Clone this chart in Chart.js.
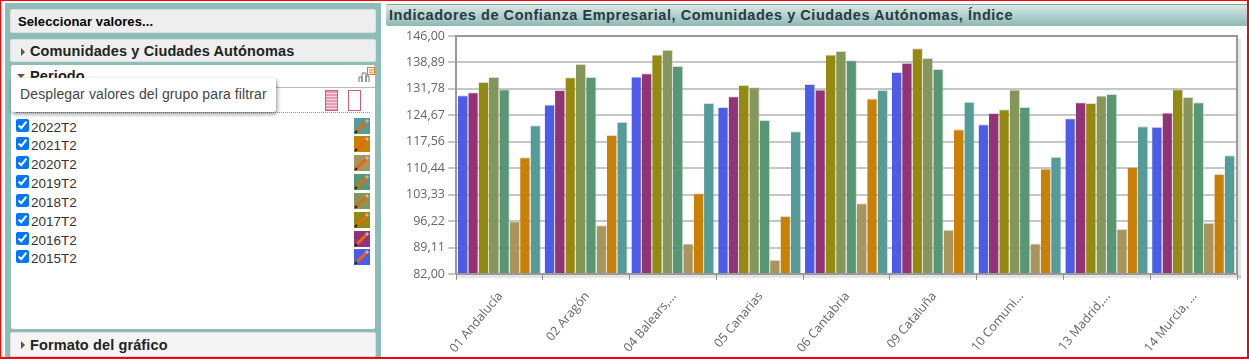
<!DOCTYPE html>
<html>
<head>
<meta charset="utf-8">
<script src="https://cdn.jsdelivr.net/npm/chart.js@4"></script>
<style>
html, body { margin: 0; padding: 0; background: #fff; overflow: hidden; }
body { width: 1249px; height: 359px; position: relative; font-family: "Liberation Sans", Arial, sans-serif; }
#frame { position: absolute; left: 0; top: 0; width: 1246px; height: 356px; border: 1px solid #f00; border-width: 1px 2px 2px 1px; z-index: 9; pointer-events: none; }
#side { position: absolute; left: 5px; top: 3px; width: 376px; height: 354px; background: #8cbdb8; }
.head { position: absolute; left: 5px; width: 364px; background: #eee; border: 1px solid #ddd; border-radius: 2px; font-weight: bold; font-size: 14.5px; color: #222; letter-spacing: .12px; box-sizing: content-box; }
.head i { position: absolute; left: 10px; top: 8px; width: 0; height: 0; border-left: 4px solid #555; border-top: 4px solid transparent; border-bottom: 4px solid transparent; }
.head span { position: absolute; left: 19px; top: 3px; white-space: nowrap; }
#period { position: absolute; left: 6px; top: 62px; width: 364px; height: 264px; background: #fff; border-radius: 2px; }
#period b { position: absolute; left: 19px; top: 3px; font-size: 14.5px; letter-spacing: .12px; color: #222; }
#period i { position: absolute; left: 6px; top: 9px; width: 0; height: 0; border-top: 4px solid #555; border-left: 4px solid transparent; border-right: 4px solid transparent; }
#rule1 { position: absolute; left: 0; right: 0; top: 22px; border-top: 1px solid #bbb; }
#rule2 { position: absolute; left: 5px; width: 354px; top: 49px; border-top: 1px dotted #999; }
#tip { position: absolute; left: 11px; top: 78px; width: 265px; height: 34px; background: #fff; border-radius: 3px; box-shadow: 1px 2px 4px rgba(0,0,0,.45); font-size: 14px; line-height: 33px; color: #444; text-indent: 9px; z-index: 5; letter-spacing: .12px; }
.row { position: absolute; left: 16px; width: 80px; height: 16px; font-size: 13.5px; color: #333; }
.row input { position: absolute; left: 0; top: 0; width: 13px; height: 13px; margin: 0; }
.row span { position: absolute; left: 15px; top: 1px; }
.sw { position: absolute; left: 354px; width: 16px; height: 16px; }
.doc { position: absolute; top: 90px; width: 11px; height: 19px; border: 1px solid #c9607f; background: #fff; }
#title { position: absolute; left: 386px; top: 4px; width: 861px; height: 22px; background: linear-gradient(#d6eae7, #8db9b4); border-top: 1px solid #999; box-sizing: border-box; border-radius: 2px 0 0 2px; font-weight: bold; font-size: 14.5px; line-height: 21px; color: #2a3a3c; text-indent: 3px; letter-spacing: .55px; white-space: nowrap; }
#chart { position: absolute; left: 386px; top: 28px; }
</style>
</head>
<body>
<div id="frame"></div>
<div id="side"></div>
<div class="head" style="left:10px;top:9px;height:22px"><span style="left:7px;top:4px;font-size:13px;letter-spacing:.1px;color:#000">Seleccionar valores...</span></div>
<div class="head" style="left:10px;top:39px;height:21px"><i></i><span>Comunidades y Ciudades Autónomas</span></div>
<div id="period" style="left:11px;top:65px"><i></i><b>Periodo</b><div id="rule1"></div><div id="rule2" style="top:47px"></div></div>
<div id="tip">Desplegar valores del grupo para filtrar</div>
<div class="doc" style="left:325px;background:repeating-linear-gradient(#e79ab0 0 2px,#f6d5dd 2px 3px)"></div>
<div class="doc" style="left:348px"></div>
<svg style="position:absolute;left:358px;top:67px" width="17" height="17">
  <path d="M1 15V10H4V15M4 15V6H8V15M8 15V9H11V15" fill="#fff" stroke="#777"/>
  <rect x="9.500" y="0.500" width="7" height="7" fill="#fff" stroke="#e07a20"/>
  <path d="M11 2.500H15M11 4H15M11 5.500H15" stroke="#e07a20" stroke-width=".7"/>
</svg>
<div id="rows"></div>
<div class="head" style="left:10px;top:332px;height:23px;background:#f4f4f4"><i></i><span style="top:4px">Formato del gráfico</span></div>
<div id="title">Indicadores de Confianza Empresarial, Comunidades y Ciudades Autónomas, Índice</div>
<canvas id="chart" width="861" height="330"></canvas>

<script>
var categories = ['01 Andalucía', '02 Aragón', '04 Balears,...', '05 Canarias', '06 Cantabria',
                  '09 Cataluña', '10 Comuni...', '13 Madrid,...', '14 Murcia, ...'];
var yTicks = [82, 89.11, 96.22, 103.33, 110.44, 117.56, 124.67, 131.78, 138.89, 146];

/* one list per period, same order as categories */
var t2015 = [130.1, 127.6, 135.1, 126.9, 133.1, 136.3, 122.3, 123.9, 121.6];
var t2016 = [130.9, 131.5, 136.0, 129.8, 131.6, 138.8, 125.3, 128.2, 125.4];
var t2017 = [133.6, 134.9, 141.0, 132.8, 141.0, 142.7, 126.3, 128.0, 131.7];
var t2018 = [135.0, 138.5, 142.3, 132.2, 142.0, 140.1, 131.6, 130.0, 129.6];
var t2019 = [131.7, 135.0, 137.9, 123.4, 139.5, 137.1, 126.9, 130.4, 128.2];
var t2020 = [96.2, 95.1, 90.2, 85.8, 101.0, 93.9, 90.2, 94.1, 95.8];
var t2021 = [113.4, 119.4, 103.7, 97.6, 129.2, 120.9, 110.4, 110.8, 108.9];
var t2022 = [122.0, 122.9, 128.0, 120.4, 131.5, 128.3, 113.5, 121.7, 113.9];

var periods = ['2015T2', '2016T2', '2017T2', '2018T2', '2019T2', '2020T2', '2021T2', '2022T2'];
var seriesValues = [t2015, t2016, t2017, t2018, t2019, t2020, t2021, t2022];
var colors = ['#4c5ce6', '#933377', '#948a10', '#84965a', '#589774', '#a8955e', '#c98006', '#559c99'];
var rowTops = [258, 240, 221, 202, 183, 164, 145, 127];

/* filter list on the left, newest first */
var html = '';
for (var i = periods.length - 1; i >= 0; i--) {
    var rowY = rowTops[i] - 8;
    html += '<div class="row" style="top:' + rowY + 'px"><input type="checkbox" checked><span>' + periods[i] + '</span></div>' +
            '<svg class="sw" style="top:' + (rowY - 1) + 'px;background:' + colors[i] + '" viewBox="0 0 16 16">' +
            '<path d="M3 13L12 4" stroke="#e8660c" stroke-width="3"/>' +
            '<path d="M12 4L14 2" stroke="#bbb" stroke-width="3"/>' +
            '<path d="M1 15L3 13" stroke="#222" stroke-width="2"/></svg>';
}
document.getElementById('rows').innerHTML = html;

/* grey frame with soft shadow round the plot */
var frame = {
    id: 'frame',
    afterDraw: function (chart) {
        var c = chart.ctx, a = chart.chartArea;
        c.save();
        c.fillStyle = 'rgba(0,0,0,.10)';
        c.fillRect(a.right + 1, a.top + 3, 3, a.bottom - a.top + 2);
        c.fillRect(a.left, a.bottom + 1, a.right - a.left + 4, 3);
        c.strokeStyle = '#999';
        c.lineWidth = 2;
        c.beginPath();
        c.moveTo(a.left, a.bottom);
        c.lineTo(a.left, a.top);
        c.lineTo(a.right, a.top);
        c.lineTo(a.right, a.bottom);
        c.lineTo(a.left, a.bottom);
        c.stroke();
        c.restore();
    }
};

var datasets = [];
for (var j = 0; j < periods.length; j++) {
    datasets.push({
        label: periods[j],
        data: seriesValues[j],
        backgroundColor: colors[j],
        borderColor: 'rgba(190,190,190,.55)',
        borderWidth: { top: 1, right: 1, left: 0, bottom: 0 },
        barPercentage: 1,
        categoryPercentage: 0.956
    });
}

new Chart(document.getElementById('chart'), {
    type: 'bar',
    data: { labels: categories, datasets: datasets },
    plugins: [frame],
    options: {
        responsive: false,
        animation: false,
        layout: { padding: { top: 8, right: 10, left: 0, bottom: 0 } },
        plugins: { legend: { display: false }, tooltip: { enabled: false } },
        scales: {
            x: {
                grid: { drawOnChartArea: false, color: '#999', tickLength: 6 },
                border: { display: false },
                afterFit: function (scale) { scale.height = 84; },
                ticks: {
                    minRotation: 50,
                    maxRotation: 50,
                    autoSkip: false,
                    padding: 9,
                    labelOffset: 1,
                    color: '#666',
                    font: { family: '"Open Sans"', size: 12.5 }
                }
            },
            y: {
                min: 82,
                max: 146,
                afterFit: function (scale) {
                    scale.width = 70;
                    scale.paddingTop = 0;
                    scale.paddingBottom = 0;
                },
                afterBuildTicks: function (scale) {
                    scale.ticks = yTicks.map(function (v) { return { value: v }; });
                },
                grid: { color: '#c6c6c6', lineWidth: 2, tickLength: 8 },
                border: { display: false },
                ticks: {
                    padding: 3,
                    color: '#666',
                    font: { family: '"Open Sans"', size: 12.5 },
                    callback: function (v) { return v.toFixed(2).replace('.', ','); }
                }
            }
        }
    }
});
</script>
</body>
</html>
